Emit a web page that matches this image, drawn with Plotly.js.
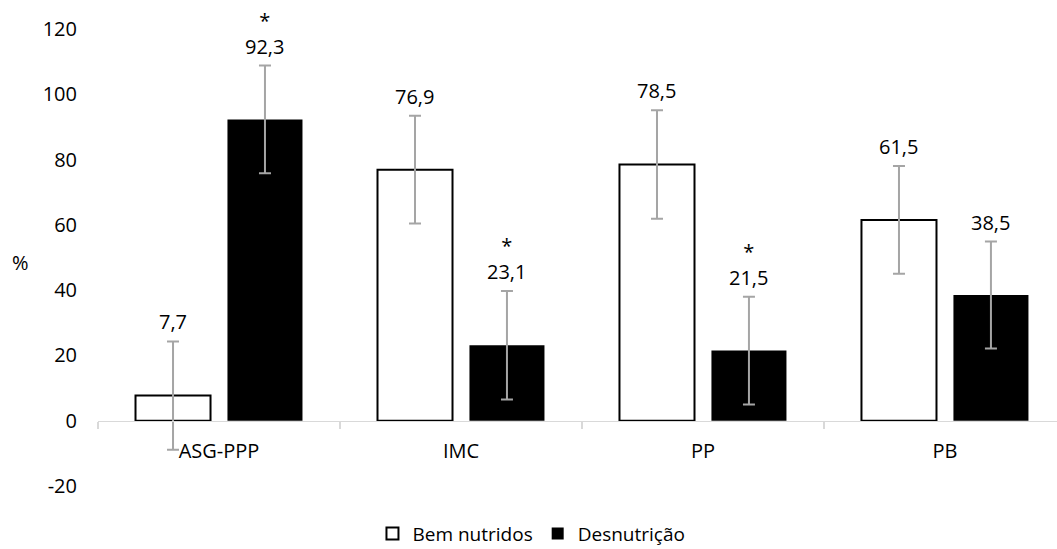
<!DOCTYPE html>
<html>
<head>
<meta charset="utf-8">
<script src="https://cdn.plot.ly/plotly-3.0.1.min.js"></script>
<style>html,body{margin:0;padding:0;background:#fff;}#chart{width:1057px;height:549px;}</style>
</head>
<body>
<div id="chart"></div>
<script>
const categories = ['ASG-PPP', 'IMC', 'PP', 'PB'];
const seriesNames = ['Bem nutridos', 'Desnutrição'];
const bemNutridos = [7.7, 76.9, 78.5, 61.5];
const desnutricao = [92.3, 23.1, 21.5, 38.5];
const errBem = [16.6, 16.5, 16.6, 16.5];
const errDes = [16.5, 16.6, 16.5, 16.4];
const sigBem = ['', '', '', ''];
const sigDes = ['*', '*', '*', ''];
const yTicks = [-20, 0, 20, 40, 60, 80, 100, 120];

const FONT = 'Open Sans, Noto Sans, sans-serif';
const FS = 20;
const fmt = v => v.toFixed(1).replace('.', ',');

const errStyle = {type: 'data', symmetric: true, color: '#a5a5a5', thickness: 2, width: 6};

const traces = [
  {
    type: 'bar', name: seriesNames[0], x: categories, y: bemNutridos,
    width: 0.31, offset: -0.345,
    marker: {color: '#ffffff', line: {color: '#000000', width: 2}},
    error_y: Object.assign({array: errBem}, errStyle),
    hoverinfo: 'skip'
  },
  {
    type: 'bar', name: seriesNames[1], x: categories, y: desnutricao,
    width: 0.31, offset: 0.035,
    marker: {color: '#000000', line: {color: '#000000', width: 0}},
    error_y: Object.assign({array: errDes}, errStyle),
    hoverinfo: 'skip'
  }
];

const annotations = [];
categories.forEach((c, i) => {
  [[bemNutridos, errBem, sigBem, -46], [desnutricao, errDes, sigDes, 46]].forEach(([vals, errs, sig, dx]) => {
    const t = (sig[i] ? sig[i] + '<br>' : '') + fmt(vals[i]);
    annotations.push({
      x: c, y: vals[i] + errs[i], xref: 'x', yref: 'y', xshift: dx, yshift: 4,
      text: t, showarrow: false, xanchor: 'center', yanchor: 'bottom',
      font: {family: FONT, size: FS, color: '#000'}
    });
  });
});
annotations.push({
  x: -0.0813, y: 0.488, xref: 'paper', yref: 'paper', text: '%', showarrow: false,
  xanchor: 'center', yanchor: 'middle', font: {family: FONT, size: FS, color: '#000'}
});

const layout = {
  width: 1057, height: 549,
  margin: {l: 98, r: 0, t: 29, b: 63, pad: 0, autoexpand: false},
  paper_bgcolor: '#fff', plot_bgcolor: '#fff',
  font: {family: FONT, size: FS, color: '#000'},
  showlegend: true,
  legend: {
    orientation: 'h', x: 0.452, y: -0.104, xanchor: 'center', yanchor: 'middle',
    font: {family: FONT, size: 19, color: '#000'}, traceorder: 'normal',
    itemwidth: 30, tracegroupgap: 0
  },
  xaxis: {
    type: 'category', range: [-0.5, 3.463],
    anchor: 'free', position: 20 / 140,
    showline: true, linecolor: '#d9d9d9', linewidth: 1.5,
    ticks: 'outside', tickson: 'boundaries', ticklen: 7, tickcolor: '#d9d9d9', tickwidth: 1.5,
    ticklabelstandoff: 12,
    showgrid: false, zeroline: false, fixedrange: true,
    tickfont: {family: FONT, size: FS, color: '#000'}
  },
  yaxis: {
    range: [-20, 120], tickvals: yTicks, ticktext: yTicks.map(String),
    showline: false, showgrid: false, zeroline: false, ticks: '',
    ticklabelstandoff: 20, fixedrange: true,
    tickfont: {family: FONT, size: FS, color: '#000'}
  },
  annotations: annotations
};

Plotly.newPlot('chart', traces, layout, {displayModeBar: false, staticPlot: true});
</script>
</body>
</html>
